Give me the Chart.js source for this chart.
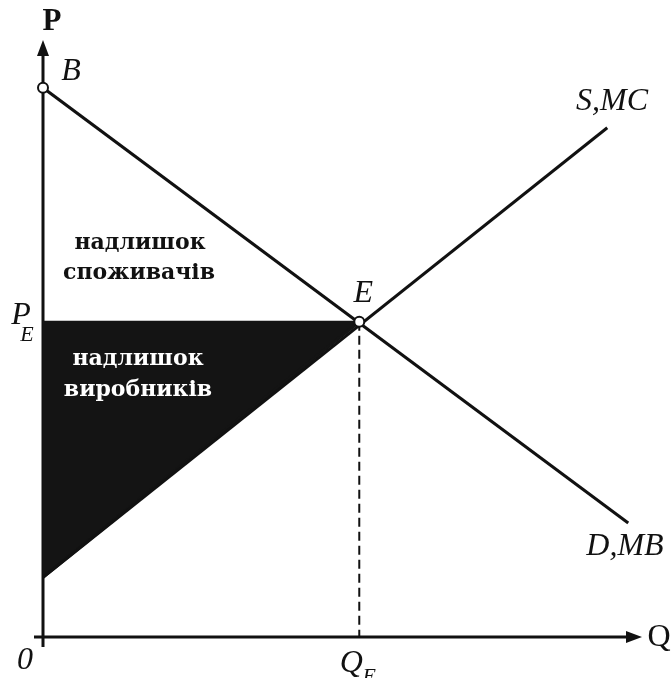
<!DOCTYPE html>
<html>
<head>
<meta charset="utf-8">
<script src="https://cdn.jsdelivr.net/npm/chart.js@4"></script>
<style>
  html, body { margin: 0; padding: 0; background: #fff; }
  #wrap { width: 671px; height: 678px; }
</style>
</head>
<body>
<div id="wrap"><canvas id="chart-surplus"></canvas></div>
<script>
// values (0..100 on both axes)
var eqX = 52.8;          // Q_E
var eqY = 52.8;          // P_E
var demandX = [0, 97.7];
var demandY = [92, 19.1];
var supplyX = [0, 94.2];
var supplyY = [10, 85.3];

var demandPts = demandX.map(function(x, i){ return {x: x, y: demandY[i]}; });
var supplyPts = supplyX.map(function(x, i){ return {x: x, y: supplyY[i]}; });

var serif = '"Liberation Serif", "DejaVu Serif", serif';

// axes with arrows (under the datasets) + text labels (on top)
var axesPlugin = {
    id: 'axes',
    beforeDatasetsDraw: function(chart){
        var c = chart.ctx;
        var xs = chart.scales.x, ys = chart.scales.y;
        var x0 = xs.getPixelForValue(0), y0 = ys.getPixelForValue(0);
        var xEnd = xs.getPixelForValue(100), yEnd = ys.getPixelForValue(100);
        c.save();
        c.strokeStyle = '#111';
        c.fillStyle = '#111';
        c.lineWidth = 3;
        c.beginPath();
        c.moveTo(x0, y0 + 10); c.lineTo(x0, yEnd + 10);
        c.moveTo(x0 - 9, y0); c.lineTo(xEnd - 10, y0);
        c.stroke();
        c.beginPath();
        c.moveTo(x0, yEnd); c.lineTo(x0 - 6, yEnd + 16); c.lineTo(x0 + 6, yEnd + 16); c.closePath();
        c.moveTo(xEnd, y0); c.lineTo(xEnd - 16, y0 - 6); c.lineTo(xEnd - 16, y0 + 6); c.closePath();
        c.fill();
        c.restore();
    },
    afterDatasetsDraw: function(chart){
        var c = chart.ctx;
        var xs = chart.scales.x, ys = chart.scales.y;
        var x0 = xs.getPixelForValue(0), y0 = ys.getPixelForValue(0);
        var xEnd = xs.getPixelForValue(100);
        c.save();
        c.fillStyle = '#111';
        c.textAlign = 'center';
        c.textBaseline = 'middle';
        c.font = 'bold 31px ' + serif;
        c.fillText('P', x0 + 9, 22);
        c.font = '32px ' + serif;
        c.fillText('Q', xEnd + 17, y0 + 1);

        c.font = 'italic 32px ' + serif;
        c.fillText('0', x0 - 18, y0 + 24);
        c.fillText('B', x0 + 28, ys.getPixelForValue(demandY[0]) - 16);
        c.fillText('E', xs.getPixelForValue(eqX) + 4, ys.getPixelForValue(eqY) - 28);
        c.fillText('S,MC', 612, 102);
        c.fillText('D,MB', 625, 547);

        // P_E and Q_E
        var py = ys.getPixelForValue(eqY);
        c.fillText('P', 21, py - 6);
        c.font = 'italic 22px ' + serif;
        c.fillText('E', 27, py + 13);
        var qx = xs.getPixelForValue(eqX);
        c.font = 'italic 32px ' + serif;
        c.fillText('Q', qx - 8, y0 + 27);
        c.font = 'italic 22px ' + serif;
        c.fillText('E', qx + 10, y0 + 40);

        // area captions
        c.font = 'bold 22px "DejaVu Serif", serif';
        c.fillText('надлишок', 140, 243);
        c.fillText('споживачів', 139, 273);
        c.fillStyle = '#fff';
        c.fillText('надлишок', 138, 359);
        c.fillText('виробників', 138, 390);
        c.restore();
    }
};

var ctx = document.getElementById('chart-surplus');
var surplusChart = new Chart(ctx, {
    type: 'scatter',
    data: {
        datasets: [
            {   // producer surplus: supply segment up to E, filled to P_E
                data: [{x: supplyX[0], y: supplyY[0]}, {x: eqX, y: eqY}],
                showLine: true,
                borderColor: '#141414',
                borderWidth: 3,
                pointRadius: 0,
                backgroundColor: '#141414',
                fill: {value: eqY},
                order: 5
            },
            {   // Q_E dashed drop line
                data: [{x: eqX, y: eqY}, {x: eqX, y: 0}],
                showLine: true,
                borderColor: '#111',
                borderWidth: 2,
                borderDash: [9, 5],
                pointRadius: 0,
                order: 4
            },
            {   // P_E edge of the triangle
                data: [{x: 0, y: eqY}, {x: eqX, y: eqY}],
                showLine: true,
                borderColor: '#141414',
                borderWidth: 2,
                pointRadius: 0,
                order: 3
            },
            {   // demand D,MB
                data: demandPts,
                showLine: true,
                borderColor: '#111',
                borderWidth: 3,
                pointRadius: 0,
                order: 2
            },
            {   // supply S,MC
                data: supplyPts,
                showLine: true,
                borderColor: '#111',
                borderWidth: 3,
                pointRadius: 0,
                order: 1
            },
            {   // points B and E
                data: [{x: 0, y: demandY[0]}, {x: eqX, y: eqY}],
                showLine: false,
                clip: false,
                pointRadius: 5,
                pointBackgroundColor: '#fff',
                pointBorderColor: '#111',
                pointBorderWidth: 2,
                order: 0
            }
        ]
    },
    options: {
        responsive: true,
        maintainAspectRatio: false,
        animation: false,
        layout: { padding: {left: 43, right: 29, top: 40, bottom: 41} },
        plugins: { legend: {display: false}, tooltip: {enabled: false} },
        scales: {
            x: { type: 'linear', min: 0, max: 100, display: false },
            y: { type: 'linear', min: 0, max: 100, display: false }
        }
    },
    plugins: [axesPlugin]
});
</script>
</body>
</html>
